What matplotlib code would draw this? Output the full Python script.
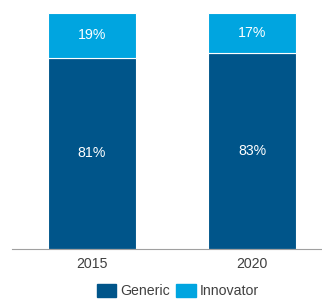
import matplotlib.pyplot as plt
from matplotlib.patches import Patch

years = ["2015", "2020"]
generic = [81, 83]
innovator = [19, 17]

dark = "#00558a"
light = "#00a5e0"
grey = "#404040"

plt.rcParams["font.family"] = ["Liberation Sans", "DejaVu Sans"]

fig = plt.figure(figsize=(3.22, 3.0), dpi=100)
ax = fig.add_axes([12 / 322, 1 - 249 / 300, 1 - 12 / 322, 236 / 300])

x = range(len(years))
ax.bar(x, generic, width=0.55, color=dark, edgecolor="white", linewidth=0.8)
ax.bar(x, innovator, bottom=generic, width=0.55, color=light, edgecolor="white", linewidth=0.8)

for i in x:
    ax.text(i, generic[i] / 2, f"{generic[i]}%", ha="center", va="center", color="white", fontsize=10.2)
    ax.text(i, generic[i] + innovator[i] / 2, f"{innovator[i]}%", ha="center", va="center", color="white", fontsize=10.2)

ax.set_xlim(-0.5, 1.4375)
ax.set_ylim(0, 100)
ax.set_xticks(list(x))
ax.set_xticklabels(years, fontsize=10.2, color=grey)
ax.tick_params(axis="x", length=0, pad=6)
ax.set_yticks([])
for s in ["top", "right", "left"]:
    ax.spines[s].set_visible(False)
ax.spines["bottom"].set_color("#a0a0a0")
ax.spines["bottom"].set_linewidth(0.8)

handles = [Patch(color=dark, label="Generic"), Patch(color=light, label="Innovator")]
fig.legend(handles=handles, loc="center", bbox_to_anchor=(178 / 322, 1 - 291 / 300), ncol=2,
           frameon=False, fontsize=10.2, handlelength=1.4, handleheight=1.1,
           handletextpad=0.3, columnspacing=0.4, labelcolor=grey)

fig.savefig("out.png", dpi=100)
